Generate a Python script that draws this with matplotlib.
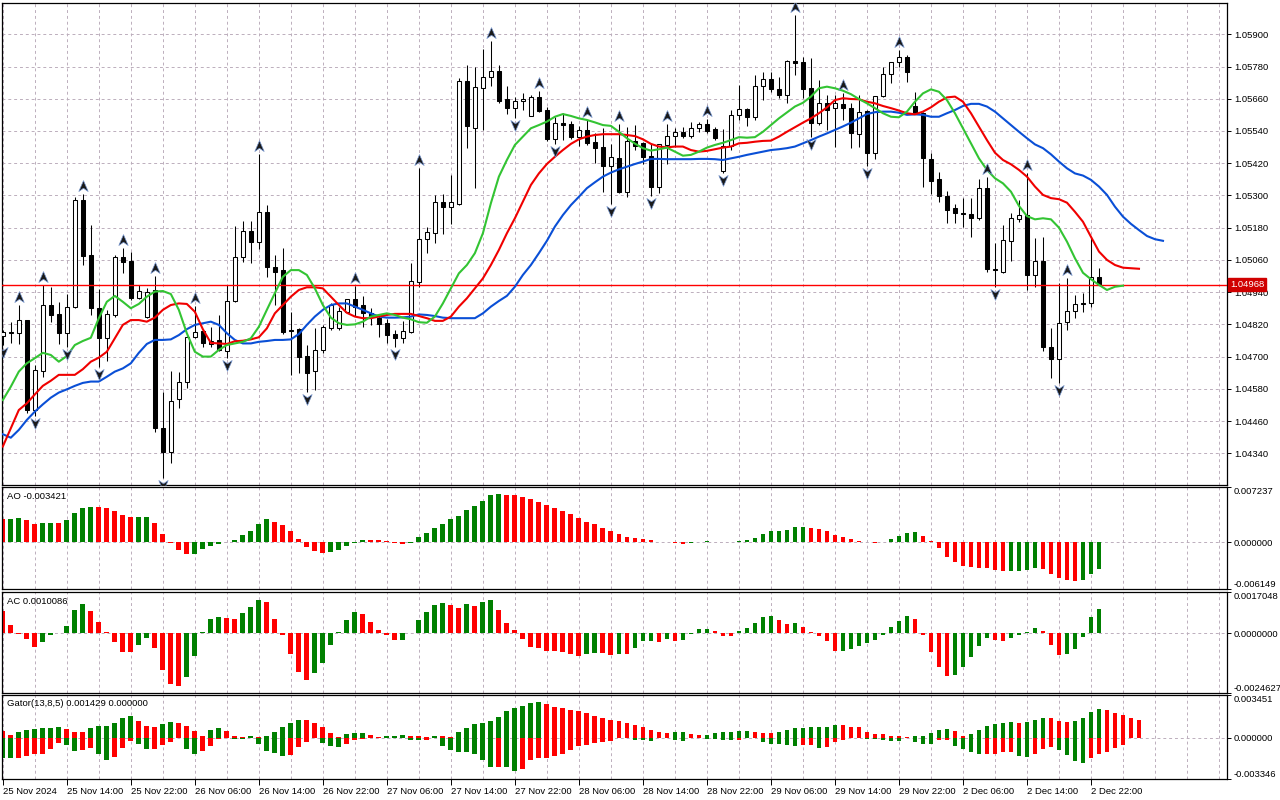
import numpy as np
import matplotlib
matplotlib.use("Agg")
import matplotlib.pyplot as plt
from matplotlib.path import Path
from matplotlib.transforms import blended_transform_factory

# EURUSD H1, 25 Nov 2024 06:00 .. 2 Dec 2024 23:00 (one entry per bar)
opens = [
    1.04777, 1.04788, 1.04789, 1.04835, 1.04501, 1.04648, 1.04892, 1.04859, 1.04789, 1.04884,
    1.05283, 1.05078, 1.04880, 1.04770, 1.04855, 1.05070, 1.05056, 1.04919, 1.04849, 1.04948,
    1.04433, 1.04346, 1.04541, 1.04604, 1.04774, 1.04795, 1.04747, 1.04761, 1.04721, 1.04908,
    1.05070, 1.05168, 1.05128, 1.05237, 1.05035, 1.05021, 1.04799, 1.04803, 1.04702, 1.04648,
    1.04726, 1.04805, 1.04805, 1.04867, 1.04913, 1.04892, 1.04861, 1.04842, 1.04826, 1.04784,
    1.04768, 1.04793, 1.04979, 1.05137, 1.05161, 1.05274, 1.05258, 1.05268, 1.05726, 1.05552,
    1.05701, 1.05740, 1.05763, 1.05658, 1.05625, 1.05652, 1.05596, 1.05665, 1.05618, 1.05510,
    1.05569, 1.05565, 1.05519, 1.05544, 1.05500, 1.05482, 1.05411, 1.05441, 1.05314, 1.05503,
    1.05496, 1.05447, 1.05333, 1.05488, 1.05521, 1.05535, 1.05521, 1.05550, 1.05565, 1.05546,
    1.05392, 1.05485, 1.05600, 1.05621, 1.05593, 1.05708, 1.05732, 1.05695, 1.05674, 1.05801,
    1.05798, 1.05699, 1.05571, 1.05643, 1.05625, 1.05639, 1.05625, 1.05528, 1.05614, 1.05459,
    1.05671, 1.05752, 1.05798, 1.05814, 1.05633, 1.05608, 1.05435, 1.05361, 1.05299, 1.05252,
    1.05233, 1.05230, 1.05217, 1.05327, 1.05026, 1.05016, 1.05130, 1.05212, 1.05227, 1.05004,
    1.05056, 1.04734, 1.04690, 1.04830, 1.04871, 1.04898, 1.04898, 1.04996,
]
highs = [
    1.04799, 1.04830, 1.04892, 1.04836, 1.04669, 1.04967, 1.04960, 1.04903, 1.04933, 1.05295,
    1.05305, 1.05190, 1.04952, 1.04873, 1.05078, 1.05103, 1.05091, 1.04967, 1.04955, 1.05000,
    1.04569, 1.04648, 1.04644, 1.04777, 1.04888, 1.04803, 1.04811, 1.04855, 1.04967, 1.05186,
    1.05205, 1.05205, 1.05454, 1.05264, 1.05078, 1.05103, 1.04866, 1.04806, 1.04743, 1.04805,
    1.04818, 1.04900, 1.04886, 1.04914, 1.04963, 1.04926, 1.04880, 1.04855, 1.04839, 1.04799,
    1.04834, 1.05047, 1.05401, 1.05182, 1.05302, 1.05305, 1.05376, 1.05736, 1.05786, 1.05780,
    1.05845, 1.05876, 1.05786, 1.05708, 1.05668, 1.05681, 1.05674, 1.05690, 1.05628, 1.05593,
    1.05607, 1.05578, 1.05559, 1.05581, 1.05532, 1.05551, 1.05492, 1.05566, 1.05556, 1.05562,
    1.05499, 1.05492, 1.05492, 1.05566, 1.05550, 1.05554, 1.05575, 1.05575, 1.05585, 1.05554,
    1.05546, 1.05618, 1.05711, 1.05625, 1.05749, 1.05761, 1.05761, 1.05740, 1.05804, 1.05972,
    1.05817, 1.05811, 1.05730, 1.05674, 1.05674, 1.05681, 1.05643, 1.05674, 1.05618, 1.05671,
    1.05779, 1.05798, 1.05842, 1.05823, 1.05686, 1.05611, 1.05457, 1.05386, 1.05318, 1.05268,
    1.05290, 1.05290, 1.05360, 1.05367, 1.05123, 1.05190, 1.05235, 1.05283, 1.05382, 1.05140,
    1.05144, 1.04805, 1.04973, 1.04991, 1.04929, 1.04938, 1.05144, 1.05030,
]
lows = [
    1.04743, 1.04749, 1.04746, 1.04490, 1.04479, 1.04625, 1.04830, 1.04747, 1.04735, 1.04881,
    1.05041, 1.04855, 1.04662, 1.04685, 1.04849, 1.05010, 1.04911, 1.04913, 1.04844, 1.04420,
    1.04247, 1.04303, 1.04508, 1.04583, 1.04768, 1.04737, 1.04737, 1.04722, 1.04694, 1.04904,
    1.05053, 1.05047, 1.05099, 1.04997, 1.04892, 1.04784, 1.04632, 1.04640, 1.04569, 1.04576,
    1.04714, 1.04799, 1.04799, 1.04864, 1.04851, 1.04811, 1.04818, 1.04774, 1.04749, 1.04736,
    1.04749, 1.04788, 1.04958, 1.05087, 1.05124, 1.05155, 1.05194, 1.05264, 1.05478, 1.05329,
    1.05544, 1.05709, 1.05645, 1.05603, 1.05588, 1.05618, 1.05594, 1.05611, 1.05504, 1.05490,
    1.05506, 1.05509, 1.05484, 1.05488, 1.05420, 1.05314, 1.05268, 1.05308, 1.05295, 1.05469,
    1.05417, 1.05298, 1.05308, 1.05417, 1.05482, 1.05513, 1.05513, 1.05537, 1.05534, 1.05506,
    1.05383, 1.05469, 1.05581, 1.05559, 1.05581, 1.05655, 1.05686, 1.05662, 1.05645, 1.05749,
    1.05662, 1.05518, 1.05562, 1.05544, 1.05482, 1.05581, 1.05475, 1.05482, 1.05411, 1.05435,
    1.05668, 1.05718, 1.05779, 1.05724, 1.05606, 1.05333, 1.05305, 1.05274, 1.05196, 1.05196,
    1.05184, 1.05146, 1.05209, 1.05016, 1.04958, 1.05013, 1.05057, 1.05202, 1.04948, 1.04960,
    1.04719, 1.04619, 1.04603, 1.04799, 1.04843, 1.04867, 1.04886, 1.04967,
]
closes = [
    1.04790, 1.04790, 1.04836, 1.04501, 1.04650, 1.04892, 1.04855, 1.04789, 1.04885, 1.05283,
    1.05074, 1.04880, 1.04770, 1.04857, 1.05070, 1.05053, 1.04919, 1.04945, 1.04942, 1.04433,
    1.04346, 1.04536, 1.04607, 1.04774, 1.04793, 1.04749, 1.04759, 1.04725, 1.04908, 1.05070,
    1.05168, 1.05128, 1.05237, 1.05032, 1.05016, 1.04793, 1.04795, 1.04700, 1.04640, 1.04725,
    1.04809, 1.04892, 1.04870, 1.04913, 1.04886, 1.04862, 1.04846, 1.04823, 1.04780, 1.04768,
    1.04794, 1.04980, 1.05137, 1.05163, 1.05274, 1.05258, 1.05274, 1.05726, 1.05559, 1.05703,
    1.05740, 1.05763, 1.05653, 1.05625, 1.05652, 1.05659, 1.05665, 1.05616, 1.05510, 1.05569,
    1.05562, 1.05519, 1.05544, 1.05496, 1.05478, 1.05411, 1.05444, 1.05312, 1.05503, 1.05484,
    1.05444, 1.05333, 1.05492, 1.05521, 1.05535, 1.05521, 1.05552, 1.05565, 1.05540, 1.05515,
    1.05485, 1.05600, 1.05621, 1.05593, 1.05708, 1.05732, 1.05695, 1.05674, 1.05801, 1.05792,
    1.05695, 1.05571, 1.05643, 1.05618, 1.05643, 1.05625, 1.05531, 1.05610, 1.05459, 1.05671,
    1.05752, 1.05798, 1.05814, 1.05761, 1.05608, 1.05438, 1.05355, 1.05299, 1.05246, 1.05233,
    1.05230, 1.05217, 1.05327, 1.05025, 1.05021, 1.05134, 1.05215, 1.05227, 1.05004, 1.05056,
    1.04734, 1.04690, 1.04826, 1.04871, 1.04895, 1.04895, 1.04996, 1.04968,
]

# Alligator lines (already shifted forward: jaw +8, teeth +5, lips +3 bars)
jaw = [
    1.04411, 1.04398, 1.04427, 1.04464, 1.04495, 1.04522, 1.04547, 1.04566, 1.04578, 1.04591,
    1.04602, 1.04607, 1.04607, 1.04625, 1.04644, 1.04656, 1.04675, 1.04714, 1.04747, 1.04762,
    1.04762, 1.04764, 1.04780, 1.04802, 1.04818, 1.04824, 1.04830, 1.04818, 1.04787, 1.04762,
    1.04749, 1.04749, 1.04755, 1.04758, 1.04762, 1.04762, 1.04764, 1.04784, 1.04818, 1.04849,
    1.04874, 1.04892, 1.04898, 1.04898, 1.04886, 1.04874, 1.04861, 1.04849, 1.04845, 1.04845,
    1.04846, 1.04849, 1.04857, 1.04855, 1.04851, 1.04845, 1.04843, 1.04843, 1.04843, 1.04843,
    1.04861, 1.04886, 1.04907, 1.04926, 1.04960, 1.05004, 1.05041, 1.05085, 1.05131, 1.05184,
    1.05227, 1.05264, 1.05295, 1.05327, 1.05349, 1.05370, 1.05385, 1.05397, 1.05407, 1.05417,
    1.05426, 1.05436, 1.05436, 1.05435, 1.05435, 1.05435, 1.05435, 1.05436, 1.05436, 1.05435,
    1.05432, 1.05438, 1.05444, 1.05451, 1.05457, 1.05463, 1.05469, 1.05472, 1.05476, 1.05482,
    1.05494, 1.05506, 1.05519, 1.05531, 1.05544, 1.05557, 1.05571, 1.05587, 1.05603, 1.05610,
    1.05612, 1.05612, 1.05608, 1.05600, 1.05602, 1.05600, 1.05593, 1.05593, 1.05606, 1.05618,
    1.05633, 1.05641, 1.05641, 1.05631, 1.05612, 1.05587, 1.05562, 1.05537, 1.05513, 1.05490,
    1.05476, 1.05453, 1.05426, 1.05401, 1.05382, 1.05374, 1.05358, 1.05333, 1.05302, 1.05258,
    1.05221, 1.05194, 1.05171, 1.05149, 1.05137, 1.05131,
]
teeth = [
    1.04365, 1.04433, 1.04501, 1.04526, 1.04559, 1.04591, 1.04610, 1.04632, 1.04632, 1.04632,
    1.04653, 1.04681, 1.04696, 1.04718, 1.04768, 1.04818, 1.04836, 1.04836, 1.04830, 1.04845,
    1.04874, 1.04892, 1.04898, 1.04896, 1.04867, 1.04802, 1.04751, 1.04749, 1.04747, 1.04757,
    1.04759, 1.04764, 1.04772, 1.04805, 1.04861, 1.04892, 1.04923, 1.04948, 1.04958, 1.04958,
    1.04954, 1.04923, 1.04892, 1.04863, 1.04849, 1.04843, 1.04843, 1.04849, 1.04855, 1.04859,
    1.04859, 1.04859, 1.04851, 1.04843, 1.04833, 1.04833, 1.04849, 1.04886, 1.04917, 1.04954,
    1.04991, 1.05041, 1.05097, 1.05159, 1.05215, 1.05277, 1.05339, 1.05382, 1.05417, 1.05444,
    1.05469, 1.05492, 1.05509, 1.05519, 1.05525, 1.05528, 1.05528, 1.05528, 1.05525, 1.05521,
    1.05509, 1.05492, 1.05482, 1.05479, 1.05482, 1.05482, 1.05469, 1.05463, 1.05466, 1.05472,
    1.05478, 1.05482, 1.05494, 1.05496, 1.05500, 1.05503, 1.05504, 1.05519, 1.05537, 1.05554,
    1.05571, 1.05587, 1.05606, 1.05628, 1.05655, 1.05662, 1.05659, 1.05658, 1.05649, 1.05643,
    1.05633, 1.05625, 1.05616, 1.05606, 1.05602, 1.05612, 1.05628, 1.05649, 1.05665, 1.05668,
    1.05649, 1.05606, 1.05556, 1.05506, 1.05459, 1.05432, 1.05416, 1.05395, 1.05370, 1.05333,
    1.05302, 1.05290, 1.05286, 1.05273, 1.05239, 1.05202, 1.05146, 1.05091, 1.05060, 1.05041,
    1.05031, 1.05029, 1.05027,
]
lips = [
    1.04538, 1.04588, 1.04644, 1.04675, 1.04694, 1.04714, 1.04706, 1.04681, 1.04702, 1.04743,
    1.04758, 1.04770, 1.04843, 1.04904, 1.04926, 1.04904, 1.04880, 1.04896, 1.04923, 1.04942,
    1.04944, 1.04933, 1.04874, 1.04787, 1.04718, 1.04700, 1.04700, 1.04725, 1.04743, 1.04749,
    1.04755, 1.04768, 1.04811, 1.04874, 1.04936, 1.04997, 1.05022, 1.05022, 1.05004, 1.04954,
    1.04892, 1.04845, 1.04824, 1.04818, 1.04820, 1.04830, 1.04849, 1.04855, 1.04861, 1.04855,
    1.04845, 1.04839, 1.04828, 1.04826, 1.04849, 1.04898, 1.04954, 1.05010, 1.05041, 1.05085,
    1.05159, 1.05271, 1.05370, 1.05432, 1.05488, 1.05519, 1.05550, 1.05562, 1.05575, 1.05593,
    1.05603, 1.05596, 1.05587, 1.05581, 1.05572, 1.05562, 1.05559, 1.05537, 1.05513, 1.05493,
    1.05476, 1.05467, 1.05472, 1.05478, 1.05463, 1.05448, 1.05451, 1.05463, 1.05478, 1.05488,
    1.05496, 1.05506, 1.05517, 1.05515, 1.05517, 1.05537, 1.05562, 1.05587, 1.05609, 1.05631,
    1.05645, 1.05668, 1.05699, 1.05705, 1.05699, 1.05690, 1.05677, 1.05659, 1.05643, 1.05625,
    1.05606, 1.05593, 1.05591, 1.05612, 1.05649, 1.05680, 1.05695, 1.05686, 1.05655, 1.05606,
    1.05550, 1.05494, 1.05438, 1.05395, 1.05364, 1.05345, 1.05314, 1.05261, 1.05223, 1.05211,
    1.05215, 1.05211, 1.05180, 1.05128, 1.05066, 1.05012, 1.04988, 1.04967, 1.04948, 1.04960,
    1.04964,
]

# bars carrying a Bill Williams fractal
up_fractals = [2, 5, 10, 15, 19, 24, 32, 44, 52, 61, 67, 73, 77, 83, 88, 99, 105, 112, 123, 128, 133]
down_fractals = [0, 4, 8, 12, 20, 28, 38, 49, 64, 69, 76, 81, 90, 101, 108, 124, 132]

ao = [
    0.00312, 0.00313, 0.00315, 0.00288, 0.002475, 0.00252, 0.00261, 0.002565, 0.002925, 0.003825,
    0.0045, 0.004635, 0.00459, 0.0045, 0.004095, 0.003555, 0.003285, 0.00331, 0.00333, 0.00261,
    0.001125, -0.00002, -0.00099, -0.001575, -0.00153, -0.000855, -0.00045, -0.00018, 0.000045, 0.000315,
    0.00099, 0.00153, 0.002475, 0.003015, 0.002745, 0.00234, 0.00153, 0.00045, -0.000585, -0.001125,
    -0.001395, -0.00126, -0.00099, -0.00045, -0.000045, 0.000315, 0.00029, 0.00027, 0.000135, -0.00002,
    -0.00018, -0.000045, 0.00072, 0.00126, 0.001935, 0.002475, 0.003015, 0.00342, 0.00423, 0.00477,
    0.005445, 0.006255, 0.00639, 0.00625, 0.00623, 0.005985, 0.005715, 0.00531, 0.004905, 0.0045,
    0.004095, 0.00369, 0.00315, 0.002745, 0.002475, 0.001935, 0.00153, 0.001125, 0.00072, 0.000585,
    0.00045, 0.000315, 0.000045, 0.00003, -0.000015, -0.000225, -0.000045, 0.00009, 0.000135, 0.00011,
    0.000045, 0.00002, 0.000135, 0.000315, 0.000585, 0.001125, 0.00153, 0.00155, 0.001665, 0.00207,
    0.00209, 0.001935, 0.0018, 0.00153, 0.00099, 0.00072, 0.00045, 0.00018, 0.000045, -0.000015,
    0.000045, 0.00045, 0.000855, 0.00126, 0.001395, 0.000855, 0.000135, -0.000765, -0.001845, -0.00252,
    -0.00306, -0.003195, -0.00333, -0.00335, -0.0036, -0.003735, -0.00371, -0.00369, -0.0036, -0.00333,
    -0.003465, -0.00414, -0.00468, -0.00495, -0.005085, -0.00495, -0.00414, -0.003421,
]
ac = [
    0.000937, 0.000341, -0.000014, -0.000241, -0.000554, -0.000369, -0.000071, 0.000004, 0.000298, 0.00098,
    0.001193, 0.000937, 0.000469, 0.000043, -0.000383, -0.000767, -0.000774, -0.000469, -0.000213, -0.000596,
    -0.001534, -0.002087, -0.002173, -0.001832, -0.000937, 0.000043, 0.000596, 0.000682, 0.000639, 0.000596,
    0.000852, 0.001065, 0.001363, 0.001278, 0.000596, -0.000071, -0.000852, -0.001619, -0.001917, -0.001661,
    -0.001235, -0.000469, 0.000043, 0.000554, 0.000895, 0.000809, 0.000469, 0.000128, -0.000071, -0.000298,
    -0.000284, 0.000014, 0.000554, 0.000895, 0.00115, 0.001235, 0.00115, 0.001022, 0.001193, 0.001108,
    0.001278, 0.001363, 0.00098, 0.000426, 0.000128, -0.000256, -0.000554, -0.000596, -0.000724, -0.000731,
    -0.000767, -0.000852, -0.000937, -0.000852, -0.000809, -0.000817, -0.000895, -0.000852, -0.000859, -0.000596,
    -0.000341, -0.000334, -0.000383, -0.000256, -0.000341, -0.000298, -0.000014, 0.00017, 0.000178, 0.000085,
    -0.000114, -0.000121, 0.000085, 0.000213, 0.000426, 0.000682, 0.000724, 0.000554, 0.000383, 0.000426,
    0.000256, 0.000043, -0.000114, -0.000341, -0.000724, -0.000717, -0.000639, -0.000511, -0.000426, -0.000298,
    -0.000071, 0.000256, 0.000511, 0.000724, 0.000596, -0.000071, -0.000767, -0.001406, -0.001789, -0.001747,
    -0.001406, -0.00098, -0.000511, -0.000213, -0.000298, -0.000305, -0.000213, -0.000071, 0.000043, 0.000213,
    0.000085, -0.000469, -0.000895, -0.00088, -0.000639, -0.00017, 0.000682, 0.0010086,
]
# Gator oscillator: upper |jaw-teeth|, lower |teeth-lips| (drawn below zero)
gator_up = [
    0.000582, 0.000265, 0.000503, 0.000662, 0.000741, 0.000820, 0.000833, 0.000847, 0.000741, 0.000503,
    0.000490, 0.000820, 0.000979, 0.000992, 0.001217, 0.001614, 0.001773, 0.001376, 0.000979, 0.000900,
    0.001138, 0.001297, 0.001217, 0.000979, 0.000582, 0.000185, 0.000662, 0.000820, 0.000582, 0.000185,
    0.000106, 0.000185, 0.000106, 0.000185, 0.000503, 0.000900, 0.001217, 0.001455, 0.001442, 0.001217,
    0.000900, 0.000423, 0.000106, 0.000344, 0.000423, 0.000437, 0.000265, 0.000106, 0.000119, 0.000185,
    0.000265, 0.000185, 0.000132, 0.000106, 0.000185, 0.000159, 0.000106, 0.000503, 0.000820, 0.001138,
    0.001217, 0.001376, 0.001693, 0.002170, 0.002408, 0.002567, 0.002805, 0.002884, 0.002725, 0.002487,
    0.002408, 0.002249, 0.002170, 0.002011, 0.001773, 0.001614, 0.001455, 0.001376, 0.001217, 0.001058,
    0.000900, 0.000662, 0.000503, 0.000423, 0.000503, 0.000516, 0.000344, 0.000265, 0.000278, 0.000423,
    0.000503, 0.000516, 0.000582, 0.000595, 0.000503, 0.000423, 0.000410, 0.000503, 0.000662, 0.000820,
    0.000833, 0.000900, 0.000913, 0.000926, 0.001058, 0.001045, 0.000900, 0.000886, 0.000503, 0.000344,
    0.000331, 0.000185, 0.000172, 0.000106, 0.000119, 0.000185, 0.000423, 0.000662, 0.000741, 0.000582,
    0.000185, 0.000344, 0.000662, 0.000979, 0.001138, 0.001217, 0.001297, 0.001217, 0.001297, 0.001455,
    0.001614, 0.001601, 0.001376, 0.001297, 0.001376, 0.001614, 0.002090, 0.002328, 0.002249, 0.002011,
    0.001852, 0.001614, 0.001429,
]
gator_down = [
    0.001614, 0.001627, 0.001614, 0.001455, 0.001297, 0.001283, 0.000900, 0.000423, 0.000582, 0.001058,
    0.001005, 0.000820, 0.001297, 0.001773, 0.001535, 0.000820, 0.000265, 0.000503, 0.000900, 0.000886,
    0.000582, 0.000344, 0.000026, 0.000900, 0.001297, 0.001058, 0.000662, 0.000106, 0.000026, 0.000066,
    0.000079, 0.000026, 0.000503, 0.001058, 0.001217, 0.001455, 0.001376, 0.000741, 0.000344, 0.000013,
    0.000423, 0.000662, 0.000741, 0.000503, 0.000185, 0.000106, 0.000026, 0.000040, 0.000026, 0.000021,
    0.000016, 0.000159, 0.000185, 0.000172, 0.000026, 0.000662, 0.000979, 0.001138, 0.001164, 0.001297,
    0.001773, 0.002328, 0.002315, 0.002355, 0.002646, 0.002487, 0.001773, 0.001614, 0.001601, 0.001455,
    0.001297, 0.000979, 0.000662, 0.000582, 0.000423, 0.000344, 0.000265, 0.000026, 0.000013, 0.000185,
    0.000198, 0.000212, 0.000026, 0.000040, 0.000185, 0.000265, 0.000013, 0.000026, 0.000079, 0.000106,
    0.000185, 0.000198, 0.000185, 0.000026, 0.000013, 0.000344, 0.000503, 0.000516, 0.000582, 0.000662,
    0.000582, 0.000569, 0.000820, 0.000741, 0.000344, 0.000185, 0.000026, 0.000013, 0.000079, 0.000106,
    0.000185, 0.000265, 0.000278, 0.000026, 0.000344, 0.000503, 0.000516, 0.000185, 0.000172, 0.000662,
    0.000900, 0.001138, 0.001297, 0.001283, 0.001270, 0.001138, 0.001111, 0.001455, 0.001535, 0.001297,
    0.000900, 0.000741, 0.000979, 0.001376, 0.001852, 0.002011, 0.001614, 0.001297, 0.001138, 0.000820,
    0.000582,
]

date_ticks = [0, 8, 16, 24, 32, 40, 48, 56, 64, 72, 80, 88, 96, 104, 112, 120, 128, 136]
date_labels = [
    "25 Nov 2024", "25 Nov 14:00", "25 Nov 22:00", "26 Nov 06:00", "26 Nov 14:00",
    "26 Nov 22:00", "27 Nov 06:00", "27 Nov 14:00", "27 Nov 22:00", "28 Nov 06:00",
    "28 Nov 14:00", "28 Nov 22:00", "29 Nov 06:00", "29 Nov 14:00", "29 Nov 22:00",
    "2 Dec 06:00", "2 Dec 14:00", "2 Dec 22:00",
]
price_ticks = [1.04340, 1.04460, 1.04580, 1.04700, 1.04820, 1.04940, 1.05060,
               1.05180, 1.05300, 1.05420, 1.05540, 1.05660, 1.05780, 1.05900]
last_price = 1.04968

ao_range = (-0.006149, 0.007237)
ac_range = (-0.0024627, 0.0017048)
gator_range = (-0.003346, 0.003451)

# ---- style ----
GREEN = "#008000"
RED = "#ff0000"
GRID = "#bcaebc"
FONT = "Liberation Sans"
FS = 6.8
plt.rcParams["font.family"] = [FONT, "DejaVu Sans"]
plt.rcParams["font.size"] = FS

def grow_colors(vals, first):
    cols = [first]
    for a, b in zip(vals[:-1], vals[1:]):
        cols.append(GREEN if b > a else RED)
    return cols

fig = plt.figure(figsize=(12.8, 8), dpi=100)
W, H = 1280.0, 800.0
def panel(top, bottom):
    return fig.add_axes([2 / W, 1 - bottom / H, (1227 - 2) / W, (bottom - top) / H])

ax = panel(2.7, 485.0)
ax_ao = panel(487.3, 589.3)
ax_ac = panel(592.0, 692.7)
ax_g = panel(695.3, 779.3)
axes = [ax, ax_ao, ax_ac, ax_g]

xmax = 153.0
grid_x = np.arange(0, 154, 4)
for a in axes:
    a.set_xlim(-0.1, xmax)
    for s in a.spines.values():
        s.set_linewidth(0.9)
        s.set_color("black")
    a.yaxis.tick_right()
    a.tick_params(axis="y", which="both", direction="out", length=3, width=0.7,
                  pad=2, labelsize=FS, left=False, right=True)
    a.set_xticks(grid_x, minor=True)
    a.set_xticks(date_ticks)
    a.grid(True, axis="x", which="both", color=GRID, linestyle=(0, (3, 3)), linewidth=0.7)
    a.tick_params(axis="x", which="minor", length=0)
    a.set_axisbelow(True)
    if a is not ax_g:
        a.tick_params(axis="x", which="major", length=0, labelbottom=False)

# ---- main: candles + alligator + fractals ----
n = len(closes)
x = np.arange(n)
o = np.array(opens); h = np.array(highs); l = np.array(lows); c = np.array(closes)
bull = c >= o
ax.vlines(x, l, h, color="black", linewidth=0.75, zorder=3)
body_lo = np.minimum(o, c)
body_h = np.abs(c - o)
ax.bar(x[bull], body_h[bull], bottom=body_lo[bull], width=0.56, color="white",
       edgecolor="black", linewidth=0.75, zorder=4)
ax.bar(x[~bull], body_h[~bull], bottom=body_lo[~bull], width=0.56, color="black",
       edgecolor="black", linewidth=0.75, zorder=4)

ax.plot(np.arange(len(jaw)), jaw, color="#0a4fd6", linewidth=1.5, zorder=5)
ax.plot(np.arange(len(teeth)), teeth, color="#f00000", linewidth=1.5, zorder=5)
ax.plot(np.arange(len(lips)), lips, color="#33c433", linewidth=1.5, zorder=5)

up_arrow = Path([(0, 1), (0.8, -0.85), (0, -0.3), (-0.8, -0.85), (0, 1)],
                [Path.MOVETO, Path.LINETO, Path.LINETO, Path.LINETO, Path.CLOSEPOLY])
down_arrow = Path([(0, -1), (0.8, 0.85), (0, 0.3), (-0.8, 0.85), (0, -1)],
                  [Path.MOVETO, Path.LINETO, Path.LINETO, Path.LINETO, Path.CLOSEPOLY])
ax.scatter(up_fractals, h[up_fractals] + 0.0003, marker=up_arrow, s=70,
           facecolor="#1a1a1a", edgecolor="#6f8fc8", linewidth=0.5, zorder=6)
ax.scatter(down_fractals, l[down_fractals] - 0.00026, marker=down_arrow, s=70,
           facecolor="#1a1a1a", edgecolor="#6f8fc8", linewidth=0.5, zorder=6)

ax.axhline(last_price, color="#ff0000", linewidth=1.0, zorder=4)
ax.set_ylim(1.042219, 1.060176)
ax.set_yticks(price_ticks)
ax.set_yticklabels(["%.5f" % p for p in price_ticks])
ax.grid(True, axis="y", color=GRID, linestyle=(0, (3, 3)), linewidth=0.7)
tr = blended_transform_factory(ax.transAxes, ax.transData)
ax.text(1.0025, last_price, "%.5f" % last_price, transform=tr, ha="left", va="center",
        color="white", fontsize=FS, clip_on=False, zorder=10,
        bbox=dict(boxstyle="square,pad=0.22", facecolor="#d00000", edgecolor="#d00000"))

# ---- indicator panels ----
def indicator(a, rng, fmt, label):
    a.set_ylim(*rng)
    a.axhline(0, color=GRID, linestyle=(0, (3, 3)), linewidth=0.7, zorder=1)
    a.set_yticks([rng[0], 0.0, rng[1]])
    labs = a.set_yticklabels([fmt % rng[0], fmt % 0.0, fmt % rng[1]])
    labs[0].set_va("bottom")
    labs[2].set_va("top")
    a.text(0.004, 0.955, label, transform=a.transAxes, ha="left", va="top", fontsize=FS)

ax_ao.bar(np.arange(len(ao)), ao, width=0.6, color=grow_colors(ao, RED), zorder=2)
indicator(ax_ao, ao_range, "%.6f", "AO %.6f" % ao[-1])

ax_ac.bar(np.arange(len(ac)), ac, width=0.6, color=grow_colors(ac, RED), zorder=2)
indicator(ax_ac, ac_range, "%.7f", "AC %.7f" % ac[-1])

ax_g.bar(np.arange(len(gator_up)), gator_up, width=0.6,
         color=grow_colors(gator_up, RED), zorder=2)
ax_g.bar(np.arange(len(gator_down)), [-v for v in gator_down], width=0.6,
         color=grow_colors(gator_down, GREEN), zorder=2)
indicator(ax_g, gator_range, "%.6f", "Gator(13,8,5) %.6f %.6f" % (gator_up[-1], 0.0))

ax_g.set_xticklabels(date_labels)
for t in ax_g.get_xticklabels():
    t.set_ha("left")
ax_g.tick_params(axis="x", which="major", direction="out", length=4, width=0.7,
                 pad=1.5, labelsize=FS)

fig.savefig("out.png", dpi=100, facecolor="white")
